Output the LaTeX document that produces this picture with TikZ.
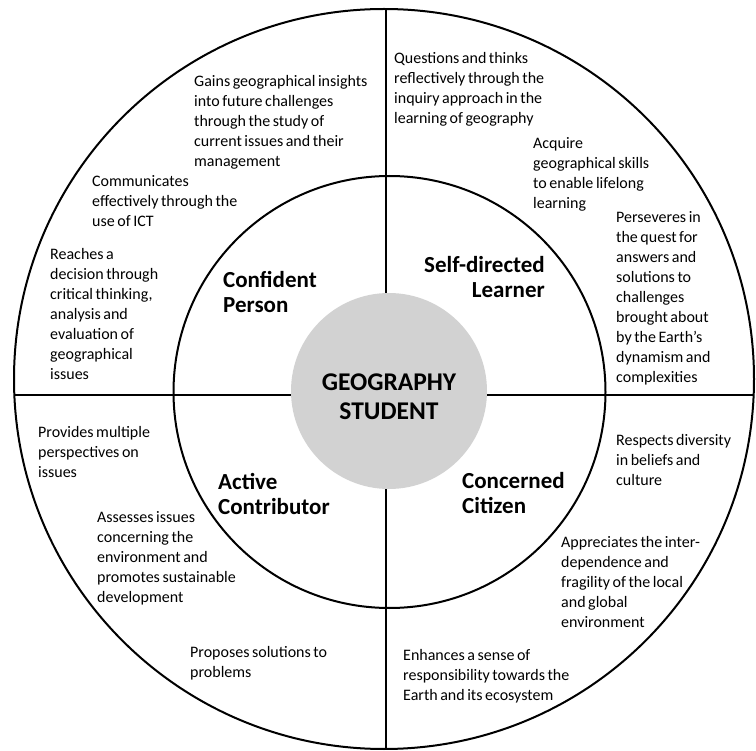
\documentclass[tikz,border=0pt]{standalone}
\usepackage{fontspec}
\setmainfont{Carlito}
\newcommand{\tightwords}{\spaceskip=0.16em plus 0.05em\relax}

\begin{document}
\begin{tikzpicture}[x=1pt, y=-1pt,
  ring/.style={draw=black, line width=2pt},
  divider/.style={draw=black, line width=1.5pt},
  trait/.style={anchor=north west, align=left, inner sep=0pt,
    font=\fontsize{16}{20}\selectfont\tightwords},
  role/.style={anchor=north west, align=left, inner sep=0pt, font=\fontsize{23}{25}\selectfont\bfseries}]
\useasboundingbox (0,0) rectangle (756,751);
\pgfmathsetmacro{\outerr}{370}
\pgfmathsetmacro{\innerr}{216}
\pgfmathsetmacro{\corer}{98}
\coordinate (outc) at (384,379);
\coordinate (inc) at (389.5,392);
\coordinate (top) at (386,9);
\coordinate (bottom) at (386,749);
\coordinate (left) at (14,395);
\coordinate (right) at (754,395);
\draw [ring] (outc) circle (\outerr);
\draw [ring] (inc) circle (\innerr);
\draw [divider] (top) -- (bottom) (left) -- (right);
\fill [gray!35] (389,391) circle (\corer);
\node [font=\fontsize{25.5}{29}\selectfont\bfseries, align=center] (student) at (389,397) {GEOGRAPHY\\STUDENT};
% the four roles
\node [role] (confident) at (223,271) {Confident\\Person};
\node [role, anchor=north east, align=right] (selfdir) at (545,256) {Self-directed\\Learner};
\node [role] (active) at (218,473) {Active\\Contributor};
\node [role] (concerned) at (462,472) {Concerned\\Citizen};
% outcomes, top left
\node [trait] (insights) at (194,75) {Gains geographical insights\\into future challenges\\through the study of\\current issues and their\\management};
\node [trait] (ict) at (92,175) {Communicates\\effectively through the\\use of ICT};
\node [trait] (decision) at (50,248) {Reaches a\\decision through\\critical thinking,\\analysis and\\evaluation of\\geographical\\issues};
% top right
\node [trait] (inquiry) at (394,52) {Questions and thinks\\reflectively through the\\inquiry approach in the\\learning of geography};
\node [trait] (skills) at (533,137) {Acquire\\geographical skills\\to enable lifelong\\learning};
\node [trait] (perseveres) at (616,211) {Perseveres in\\the quest for\\answers and\\solutions to\\challenges\\brought about\\by the Earth’s\\dynamism and\\complexities};
% bottom left
\node [trait] (perspectives) at (38,426) {Provides multiple\\perspectives on\\issues};
\node [trait] (assesses) at (97,511) {Assesses issues\\concerning the\\environment and\\promotes sustainable\\development};
\node [trait] (proposes) at (190,646) {Proposes solutions to\\problems};
% bottom right
\node [trait] (diversity) at (616,434) {Respects diversity\\in beliefs and\\culture};
\node [trait] (interdep) at (561,536) {Appreciates the inter-\\dependence and\\fragility of the local\\and global\\environment};
\node [trait] (responsibility) at (403,649) {Enhances a sense of\\responsibility towards the\\Earth and its ecosystem};
\end{tikzpicture}
\end{document}
